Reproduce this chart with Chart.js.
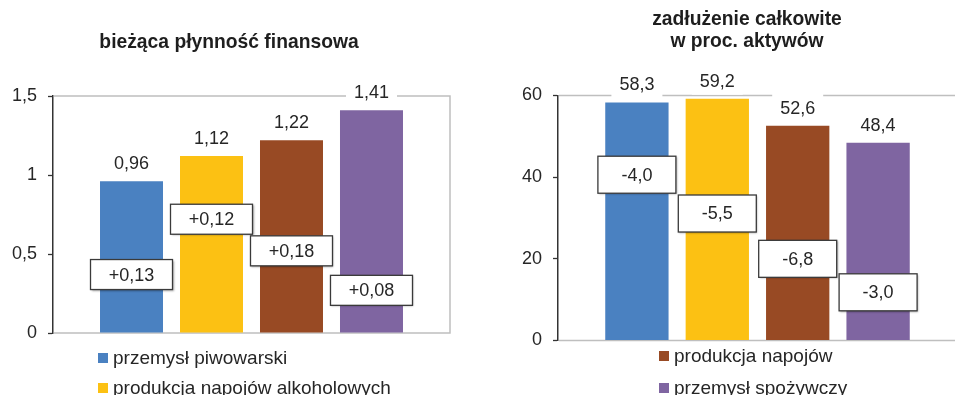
<!DOCTYPE html>
<html>
<head>
<meta charset="utf-8">
<script src="https://cdn.jsdelivr.net/npm/chart.js@4.4.1/dist/chart.umd.min.js"></script>
<style>
  html, body { margin: 0; padding: 0; background: #fff; }
  #wrap { position: relative; width: 955px; height: 395px; overflow: hidden; }
  .cv { position: absolute; top: 0; }
  .legitem { position: absolute; font: 19px "Liberation Sans", Arial, sans-serif; color: #262626; white-space: nowrap; height: 22px; line-height: 22px; }
  .sw { position: absolute; width: 10px; height: 10px; }
</style>
</head>
<body>
<div id="wrap">
  <div class="cv" style="left:0px;width:458px;height:395px;"><canvas id="c1"></canvas></div>
  <div class="cv" style="left:480px;width:534px;height:395px;"><canvas id="c2"></canvas></div>
</div>
<script>
// ---------- DATA ----------
const categories = [''];
const seriesNames = ['przemysł piwowarski', 'produkcja napojów alkoholowych', 'produkcja napojów', 'przemysł spożywczy'];
const seriesColors = ['#4A81C1', '#FCC113', '#984A24', '#7F65A1'];

const liquidityTitle = 'bieżąca płynność finansowa';
const liquidityValues = [0.96, 1.12, 1.22, 1.41];
const liquidityChanges = [0.13, 0.12, 0.18, 0.08];
const liquidityTicks = [0, 0.5, 1, 1.5];

const debtTitle = ['zadłużenie całkowite', 'w proc. aktywów'];
const debtValues = [58.3, 59.2, 52.6, 48.4];
const debtChanges = [-4.0, -5.5, -6.8, -3.0];
const debtTicks = [0, 20, 40, 60];

// ---------- LAYOUT (annotation box positions, in axis units) ----------
const liquidityBoxAt = [0.37, 0.72, 0.52, 0.27];
const debtBoxAt = [40.6, 31.1, 20.0, 11.8];

const FONT = '"Liberation Sans", Arial, sans-serif';
const TXT = '#262626';

function fmt(v, d) { return v.toFixed(d).replace('.', ','); }
function fmtSigned(v, d) { return (v > 0 ? '+' : '') + fmt(v, d); }

function buildChart(el, o) {
  const decor = {
    id: 'decor',
    beforeDatasetsDraw(chart) {
      const a = chart.chartArea, ctx = chart.ctx;
      ctx.save();
      ctx.strokeStyle = '#BFBFBF';
      ctx.lineWidth = 1.5;
      ctx.beginPath();
      ctx.moveTo(a.left + 1, a.top); ctx.lineTo(a.right, a.top);
      ctx.lineTo(a.right, a.bottom); ctx.lineTo(a.left + 1, a.bottom);
      ctx.stroke();
      ctx.restore();
    },
    afterDatasetsDraw(chart) {
      const ctx = chart.ctx, ys = chart.scales.y;
      ctx.save();
      ctx.font = '18px ' + FONT;
      ctx.textAlign = 'center';
      ctx.textBaseline = 'middle';
      chart.data.datasets.forEach((ds, i) => {
        const bar = chart.getDatasetMeta(i).data[0];
        // value label with white background
        const ly = bar.y - 18;
        ctx.fillStyle = '#fff';
        ctx.fillRect(bar.x - 25.5, ly - 14, 51, 28);
        ctx.fillStyle = TXT;
        ctx.fillText(fmt(ds.data[0], o.dec), bar.x, ly + 1);
        // change box
        const by = ys.getPixelForValue(o.boxAt[i]);
        const bw = o.boxW, bh = o.boxH;
        ctx.save();
        ctx.shadowColor = 'rgba(0,0,0,0.35)';
        ctx.shadowOffsetX = 1; ctx.shadowOffsetY = 1; ctx.shadowBlur = 2;
        ctx.fillStyle = '#fff';
        ctx.fillRect(bar.x - bw / 2, by - bh / 2, bw, bh);
        ctx.restore();
        ctx.strokeStyle = '#3a3a3a';
        ctx.lineWidth = 1.3;
        ctx.strokeRect(bar.x - bw / 2, by - bh / 2, bw, bh);
        ctx.fillStyle = TXT;
        ctx.fillText(fmtSigned(o.changes[i], o.dec === 2 ? 2 : 1), bar.x, by + 1);
      });
      ctx.restore();
    }
  };

  return new Chart(el, {
    type: 'bar',
    data: {
      labels: categories,
      datasets: seriesNames.map((n, i) => ({
        label: n,
        data: [o.values[i]],
        backgroundColor: seriesColors[i],
        borderWidth: 0,
        barPercentage: 0.7875,
        categoryPercentage: 0.806
      }))
    },
    options: {
      responsive: true,
      maintainAspectRatio: false,
      animation: false,
      devicePixelRatio: 1,
      layout: { padding: o.padding },
      plugins: {
        legend: { display: false },
        tooltip: { enabled: false },
        title: {
          display: true,
          text: o.title,
          color: '#1e1e1e',
          font: { family: FONT, size: 19.3, weight: 'bold', lineHeight: o.titleLH + 'px' },
          padding: o.titlePad
        }
      },
      scales: {
        x: { type: 'category', display: false },
        y: {
          min: 0, max: o.ticks[o.ticks.length - 1],
          afterBuildTicks: s => { s.ticks = o.ticks.map(v => ({ value: v })); },
          afterFit: s => { s.width = o.axisW; },
          grid: { drawOnChartArea: false, drawTicks: true, tickLength: 5, tickColor: '#333', tickWidth: 1.3 },
          border: { display: true, color: '#333', width: 1.5 },
          ticks: {
            color: TXT, padding: 11,
            font: { family: FONT, size: 18 },
            callback: v => String(v).replace('.', ',')
          }
        },
        spacer: {
          type: 'linear', position: 'right', display: true,
          grid: { display: false }, border: { display: false }, ticks: { display: false },
          afterFit: s => { s.width = o.spacerW; }
        }
      }
    },
    plugins: [decor]
  });
}

buildChart(document.getElementById('c1'), {
  title: liquidityTitle, titleLH: 20, titlePad: { top: 33, bottom: 43 },
  values: liquidityValues, changes: liquidityChanges, boxAt: liquidityBoxAt,
  ticks: liquidityTicks, dec: 2, axisW: 53, spacerW: 8,
  padding: { left: 0, right: 0, top: 0, bottom: 62 },
  boxW: 82, boxH: 30
});

buildChart(document.getElementById('c2'), {
  title: debtTitle, titleLH: 22, titlePad: { top: 9, bottom: 42.5 },
  values: debtValues, changes: debtChanges, boxAt: debtBoxAt,
  ticks: debtTicks, dec: 1, axisW: 78, spacerW: 57,
  padding: { left: 0, right: 0, top: 0, bottom: 54.5 },
  boxW: 78, boxH: 37
});

// ---------- LEGENDS (HTML) ----------
const legendSpec = [
  { idx: 0, x: 98, cy: 358 },
  { idx: 1, x: 98, cy: 388 },
  { idx: 2, x: 659, cy: 356 },
  { idx: 3, x: 659, cy: 388 }
];
const wrap = document.getElementById('wrap');
legendSpec.forEach(s => {
  const sw = document.createElement('div');
  sw.className = 'sw';
  sw.style.left = s.x + 'px';
  sw.style.top = (s.cy - 5) + 'px';
  sw.style.background = seriesColors[s.idx];
  wrap.appendChild(sw);
  const t = document.createElement('div');
  t.className = 'legitem';
  t.style.left = (s.x + 15) + 'px';
  t.style.top = (s.cy - 11) + 'px';
  t.textContent = seriesNames[s.idx];
  wrap.appendChild(t);
});
</script>
</body>
</html>
